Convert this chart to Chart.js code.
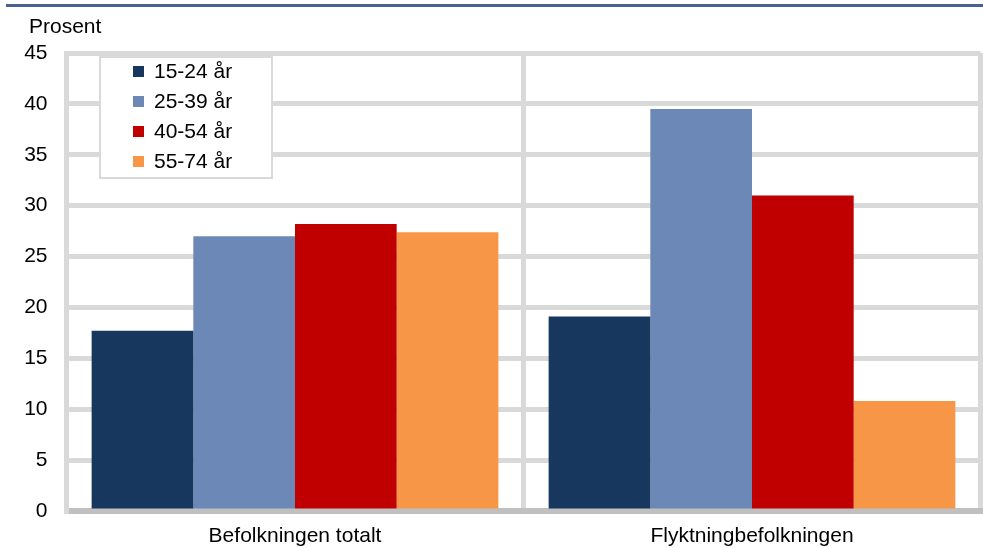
<!DOCTYPE html>
<html>
<head>
<meta charset="utf-8">
<script src="https://cdn.jsdelivr.net/npm/chart.js@4/dist/chart.umd.min.js"></script>
<style>
  html,body{margin:0;padding:0;background:#fff;}
  #wrap{position:relative;width:983px;height:548px;}
</style>
</head>
<body>
<div id="wrap"><canvas id="cv" width="983" height="548"></canvas></div>
<script>
// --- data ---
const categories = ['Befolkningen totalt', 'Flyktningbefolkningen'];
const ageGroups  = ['15-24 år', '25-39 år', '40-54 år', '55-74 år'];
const age15_24 = [17.7, 19.1];
const age25_39 = [27.0, 39.5];
const age40_54 = [28.2, 31.0];
const age55_74 = [27.4, 10.8];
const yTicks = { min: 0, max: 45, step: 5 };
const colors = ['#17375e', '#6c88b7', '#c00000', '#f79646'];

const FONT = "'Liberation Sans', Arial, sans-serif";
const series = [age15_24, age25_39, age40_54, age55_74];

// top rule, "Prosent" label and the boxed legend inside the plot
const decor = {
  id: 'decor',
  afterDraw(chart){
    const ctx = chart.ctx;
    ctx.save();
    ctx.fillStyle = '#4a6291';
    ctx.fillRect(6, 4, 977, 3);

    ctx.fillStyle = '#000';
    ctx.font = '21px ' + FONT;
    ctx.textBaseline = 'middle';
    ctx.textAlign = 'left';
    ctx.fillText('Prosent', 29, 27);

    // legend box
    const bx = 100, by = 57, bw = 172, bh = 121;
    ctx.fillStyle = '#fff';
    ctx.fillRect(bx, by, bw, bh);
    ctx.strokeStyle = '#d9d9d9';
    ctx.lineWidth = 2;
    ctx.strokeRect(bx, by, bw, bh);
    chart.data.datasets.forEach((ds, i) => {
      const cy = 72 + i * 30;
      ctx.fillStyle = ds.backgroundColor;
      ctx.fillRect(133, cy - 6, 11, 11);
      ctx.fillStyle = '#000';
      ctx.fillText(ds.label, 154, cy);
    });
    ctx.restore();
  }
};

new Chart(document.getElementById('cv'), {
  type: 'bar',
  data: {
    labels: categories,
    datasets: ageGroups.map((g, i) => ({
      label: g,
      data: series[i],
      backgroundColor: colors[i],
      borderWidth: 0,
      categoryPercentage: 0.89,
      barPercentage: 1
    }))
  },
  options: {
    responsive: false,
    devicePixelRatio: 1,
    animation: false,
    layout: { padding: { top: 53, right: 2.5, left: 0, bottom: 0 } },
    plugins: { legend: { display: false }, tooltip: { enabled: false } },
    scales: {
      x: {
        grid: { offset: true, color: '#d9d9d9', lineWidth: 5, drawTicks: false },
        border: { color: '#c0c0c0', width: 6 },
        ticks: { color: '#000', font: { family: FONT, size: 21 }, padding: 13 },
        afterFit(s){ s.height = 37; }
      },
      y: {
        min: yTicks.min, max: yTicks.max,
        grid: { color: '#d9d9d9', lineWidth: 5, drawTicks: false },
        border: { color: '#d9d9d9', width: 5 },
        ticks: { stepSize: yTicks.step, color: '#000', font: { family: FONT, size: 21 }, padding: 19 },
        afterFit(s){ s.width = 66.5; }
      }
    }
  },
  plugins: [decor]
});
</script>
</body>
</html>
